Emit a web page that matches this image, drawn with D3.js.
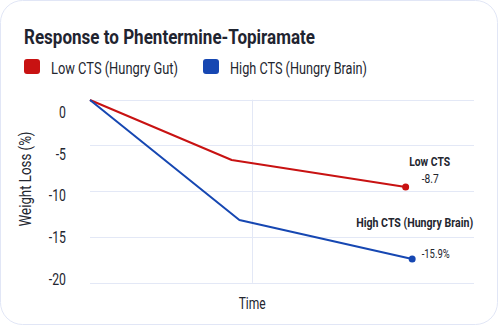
<!DOCTYPE html>
<html>
<head>
<meta charset="utf-8">
<script src="https://cdn.jsdelivr.net/npm/d3@7"></script>
<style>
  html, body { margin: 0; padding: 0; background: #ffffff; }
  svg { display: block; }
  svg text { font-family: Roboto, "Liberation Sans", sans-serif !important; }
</style>
</head>
<body>
<svg id="chart" width="498" height="325"></svg>
<script>
// ---- data ----
const title = "Response to Phentermine-Topiramate";
const seriesNames = ["Low CTS (Hungry Gut)", "High CTS (Hungry Brain)"];
const seriesColors = ["#c81212", "#1647b2"];
const lowTime = [0, 36.9, 82.2];
const lowValues = [0, -6, -8.7];
const highTime = [0, 38.9, 83.9];
const highValues = [0, -12, -15.9];
const yTickValues = [0, -5, -10, -15, -20];
const yTickLabels = ["0", "-5", "-10", "-15", "-20"];
const xCategory = "Time";
const xCategoryPos = 42.1;
const endLabels = ["Low CTS", "High CTS (Hungry Brain)"];
const endValueLabels = ["-8.7", "-15.9%"];
const yAxisTitle = "Weight Loss (%)";

const svg = d3.select("#chart");
const TEXT = "#23262f";

// condensed look: squeeze text to a target width
function fitWidth(sel, w) {
  sel.attr("textLength", w).attr("lengthAdjust", "spacingAndGlyphs");
  return sel;
}
function squeeze(sel, f) {
  sel.each(function () {
    const L = this.getComputedTextLength();
    this.setAttribute("textLength", L * f);
    this.setAttribute("lengthAdjust", "spacingAndGlyphs");
  });
}
// squeeze by transform (anchor point ax, ay)
function placeScaled(txt, ax, ay, w) {
  const L = txt.node().getComputedTextLength();
  txt.attr("x", 0).attr("y", 0)
    .attr("transform", `translate(${ax},${ay}) scale(${w / L},1)`);
  return txt;
}

// card
svg.append("rect")
  .attr("x", 0.5).attr("y", 0.5).attr("width", 497).attr("height", 324)
  .attr("rx", 22).attr("ry", 22)
  .attr("fill", "#ffffff").attr("stroke", "#e1e6f6").attr("stroke-width", 1);

// title
fitWidth(svg.append("text").attr("x", 24).attr("y", 44)
  .attr("font-size", 20).attr("font-weight", 700).attr("fill", "#1f2430")
  .text(title), 291);

// legend
const legendX = [24, 203];
const legendW = [127, 137];
seriesNames.forEach((n, i) => {
  const g = svg.append("g").attr("transform", `translate(${legendX[i]},59)`);
  g.append("rect").attr("width", 16).attr("height", 15).attr("rx", 3)
    .attr("fill", seriesColors[i]);
  fitWidth(g.append("text").attr("x", 27).attr("y", 15)
    .attr("font-size", 17).attr("fill", TEXT).text(n), legendW[i]);
});

// scales
const x = d3.scaleLinear().domain([0, 100]).range([90, 474]);
const y = d3.scaleLinear().domain([0, -20]).range([100, 300]);          // data
const yGrid = d3.scaleLinear().domain([0, -20]).range([99.7, 282.8]);    // grid lines
const yLabel = d3.scaleLinear().domain([0, -20]).range([112, 279]);      // tick labels

// grid
const grid = svg.append("g");
grid.selectAll("line.h").data(yTickValues).join("line")
  .attr("x1", x(0)).attr("x2", x(100))
  .attr("y1", d => Math.round(yGrid(d)) + 0.5).attr("y2", d => Math.round(yGrid(d)) + 0.5)
  .attr("stroke", "#e3e8f6").attr("stroke-width", 1);
grid.append("line")
  .attr("x1", Math.round(x(xCategoryPos)) + 0.5).attr("x2", Math.round(x(xCategoryPos)) + 0.5)
  .attr("y1", yGrid(0)).attr("y2", yGrid(-20))
  .attr("stroke", "#e3e8f6").attr("stroke-width", 1);

// y axis labels
const yAxis = d3.axisLeft(yLabel).tickValues(yTickValues)
  .tickFormat((d, i) => yTickLabels[i]).tickSize(0).tickPadding(0);
const ya = svg.append("g").attr("transform", "translate(66,0)").call(yAxis);
ya.select(".domain").remove();
ya.selectAll("text").attr("font-size", 17).attr("fill", TEXT);
squeeze(ya.selectAll("text"), 0.72);

// x axis label
const xAxis = d3.axisBottom(x).tickValues([xCategoryPos]).tickFormat(() => xCategory)
  .tickSize(0).tickPadding(0);
const xa = svg.append("g").attr("transform", "translate(0,297)").call(xAxis);
xa.select(".domain").remove();
fitWidth(xa.selectAll("text").attr("font-size", 17).attr("fill", TEXT), 27);

// y axis title
fitWidth(svg.append("text")
  .attr("transform", "translate(31,179) rotate(-90)")
  .attr("text-anchor", "middle").attr("font-size", 16).attr("fill", TEXT)
  .text(yAxisTitle), 95);

// lines
const series = [
  { t: lowTime, v: lowValues, c: seriesColors[0] },
  { t: highTime, v: highValues, c: seriesColors[1] }
];
const line = d3.line().x(d => x(d[0])).y(d => y(d[1]));
series.forEach(s => {
  const pts = s.t.map((t, i) => [t, s.v[i]]);
  svg.append("path").datum(pts).attr("d", line)
    .attr("fill", "none").attr("stroke", s.c).attr("stroke-width", 2)
    .attr("stroke-linejoin", "round");
  const last = pts[pts.length - 1];
  svg.append("circle").attr("cx", x(last[0])).attr("cy", y(last[1])).attr("r", 3.5)
    .attr("fill", s.c);
});

// end annotations
const lowEnd = [x(lowTime[2]), y(lowValues[2])];
const highEnd = [x(highTime[2]), y(highValues[2])];
placeScaled(svg.append("text")
  .attr("text-anchor", "middle").attr("font-size", 13.5).attr("font-weight", 700)
  .attr("fill", TEXT).text(endLabels[0]), lowEnd[0] + 24, lowEnd[1] - 21, 41);
placeScaled(svg.append("text")
  .attr("text-anchor", "middle").attr("font-size", 12)
  .attr("fill", TEXT).text(endValueLabels[0]), lowEnd[0] + 24.5, lowEnd[1] - 4, 17);
placeScaled(svg.append("text")
  .attr("text-anchor", "middle").attr("font-size", 13.5).attr("font-weight", 700)
  .attr("fill", TEXT).text(endLabels[1]), highEnd[0] + 2.5, highEnd[1] - 32, 117);
placeScaled(svg.append("text")
  .attr("text-anchor", "start").attr("font-size", 12)
  .attr("fill", TEXT).text(endValueLabels[1]), highEnd[0] + 9.5, highEnd[1] - 0.7, 28);
</script>
</body>
</html>
